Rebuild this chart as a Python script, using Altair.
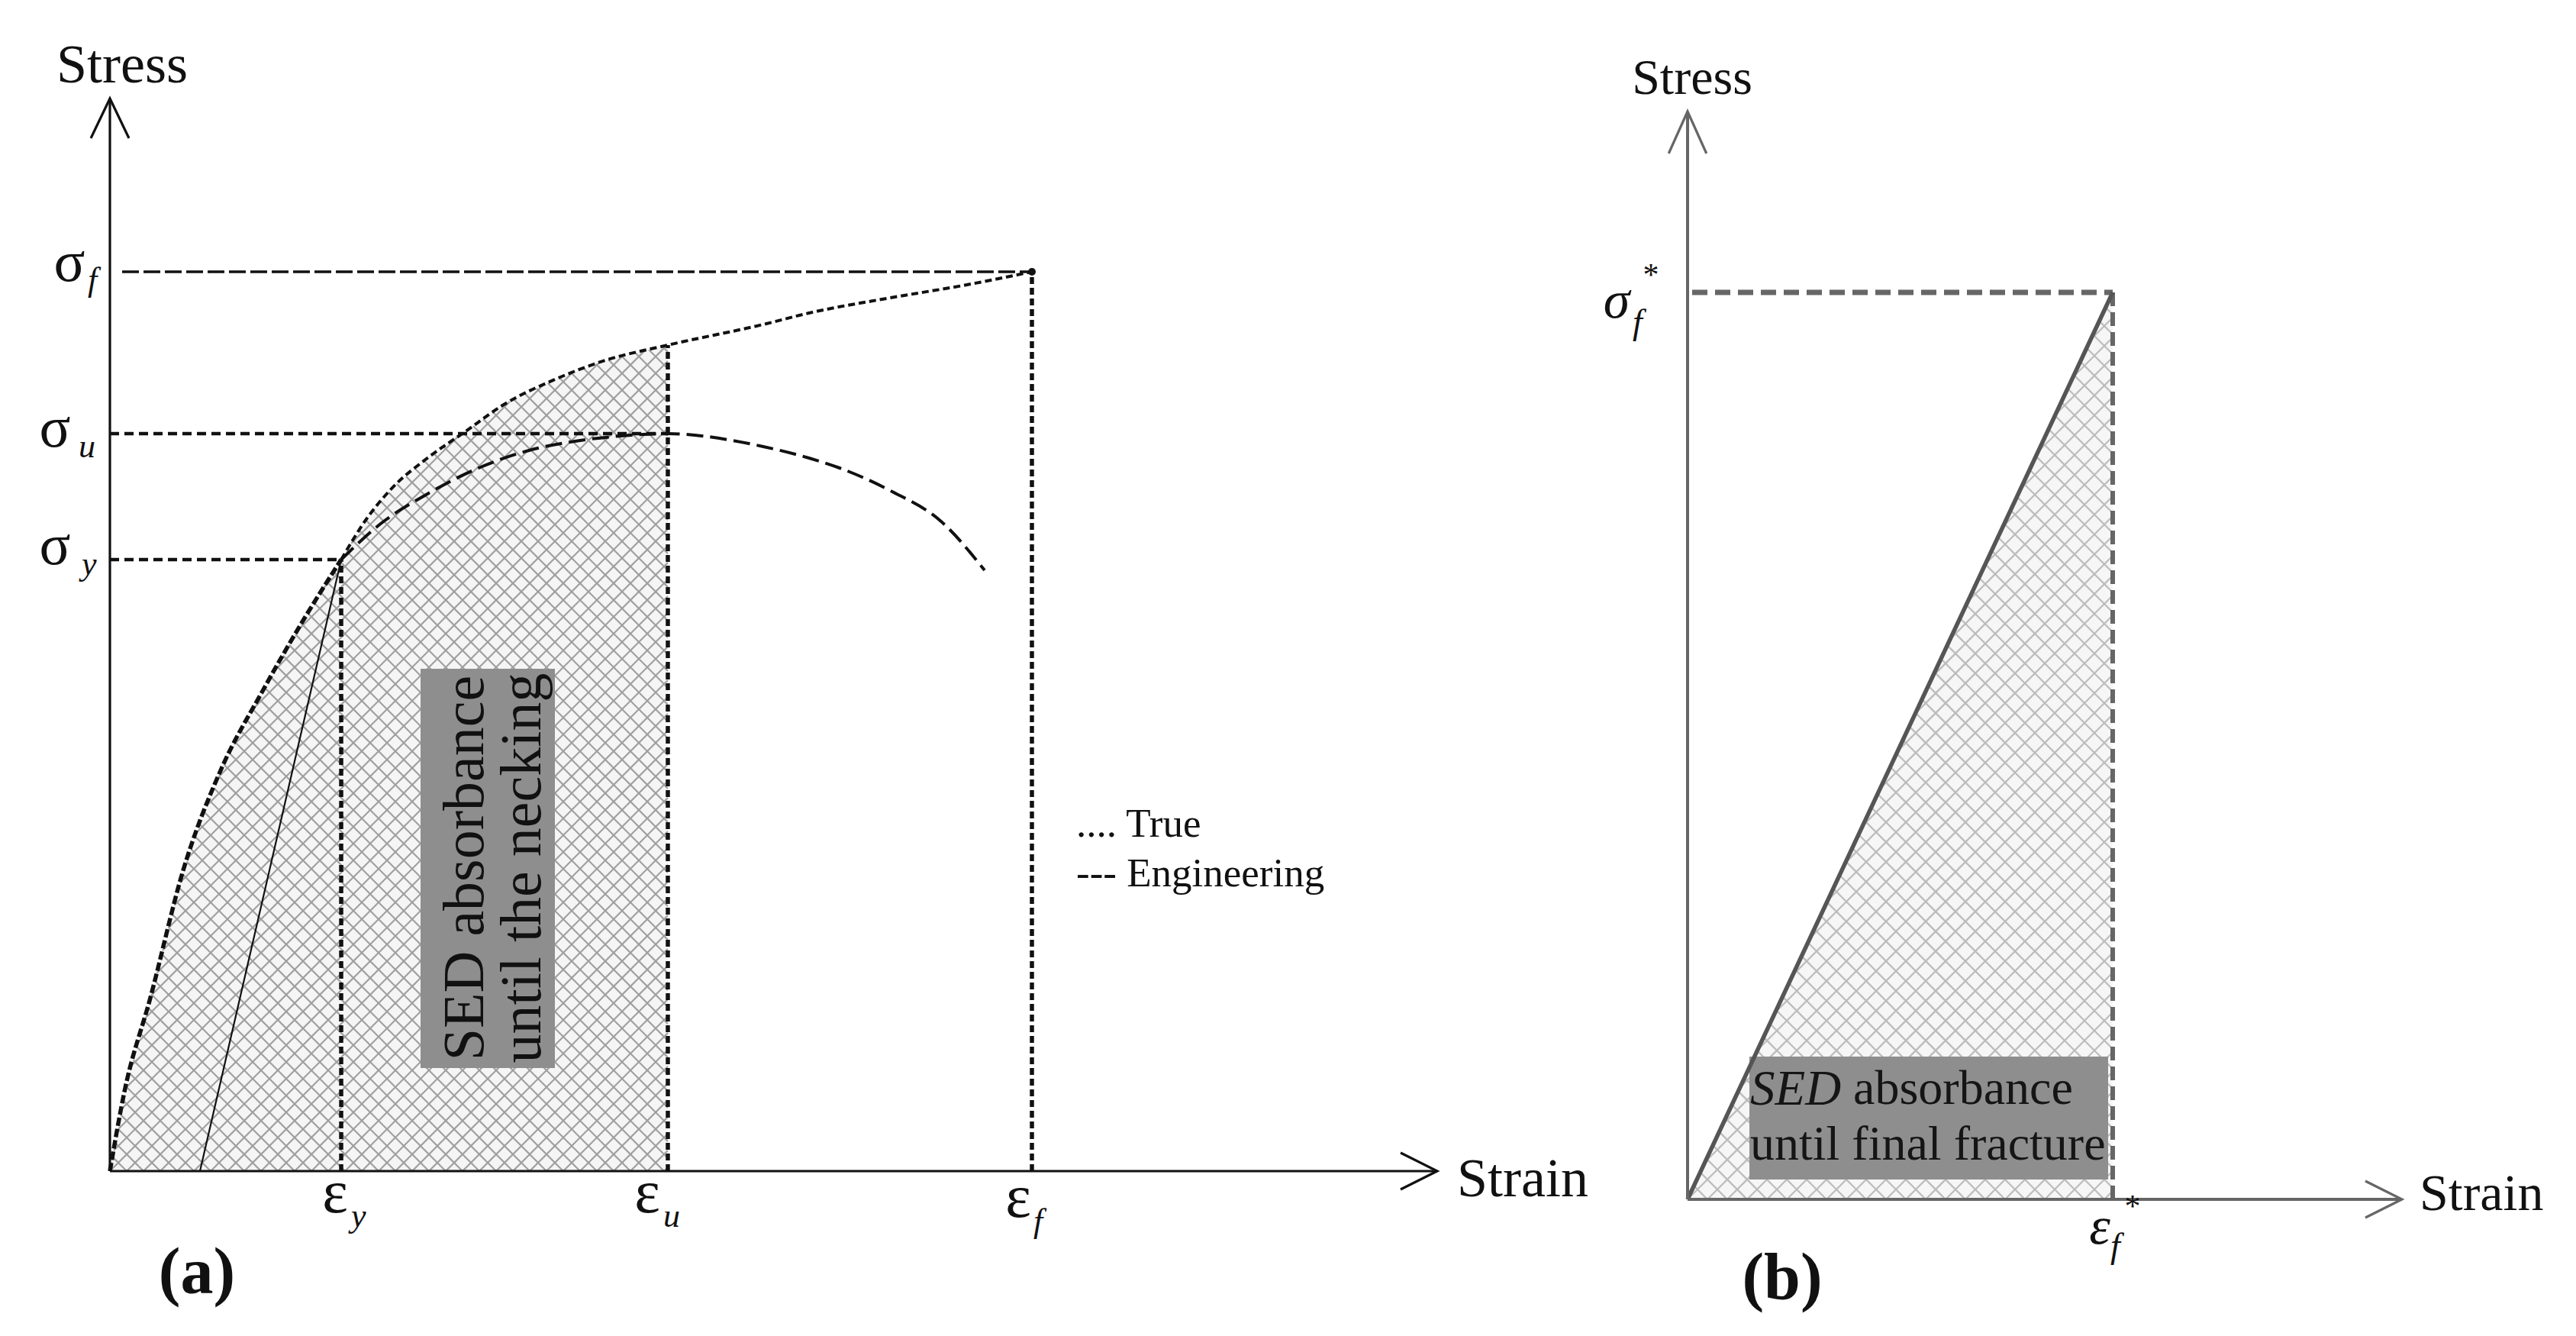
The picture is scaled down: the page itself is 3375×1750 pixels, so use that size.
import altair as alt
import numpy as np
import pandas as pd

# ---------------- Panel (a): schematic values (1 unit = 10 px) ----------------
eps_y, eps_u, eps_f = 30.3, 73.1, 120.8
sig_y, sig_u, sig_f = 80.1, 96.6, 117.8
unload_foot = 11.8
elastic_strain = [0, 1.9, 5.3, 9.6, 14.6, 19.9, 25.3, 30.3]
elastic_stress = [0, 10.4, 22.7, 39.4, 52.7, 62.7, 72.1, 80.1]
eng_strain = [30.3, 35.6, 41.6, 48.3, 54.9, 61.6, 68.3, 73.1, 81.6, 85.6, 91.6, 95.6, 102.3, 108.9, 114.6]
eng_stress = [80.1, 84.9, 88.7, 92.1, 94.4, 95.7, 96.4, 96.6, 95.7, 94.9, 93.4, 92.1, 89.1, 85.1, 78.7]
true_strain = [30.3, 33.6, 36.9, 41.6, 46.6, 51.6, 58.3, 64.9, 73.1, 85.6, 91.6, 102.3, 112.3, 120.8]
true_stress = [80.1, 85.4, 89.4, 93.4, 96.9, 100.4, 103.7, 106.2, 108.2, 110.9, 112.4, 114.4, 116.1, 117.8]
axis_a_end = [173.9, 140.5]
legend_a = [".... True", "--- Engineering"]
box_a_text = ["SED absorbance", "until the necking"]

# ---------------- Panel (b) ----------------
eps_f_star, sig_f_star = 55.7, 118.8
axis_b_end = [93.6, 142.5]
box_b_text = ["SED", "absorbance", "until final fracture"]

FONT = "Liberation Serif"
W_A, W_B, H = 2080, 1279, 1734
xs_a = alt.Scale(domain=[-13.6, 194.4], nice=False, zero=False)
ys_a = alt.Scale(domain=[-20.8, 152.6], nice=False, zero=False)
xs_b = alt.Scale(domain=[-12.3, 115.6], nice=False, zero=False)
ys_b = alt.Scale(domain=[-17.1, 156.3], nice=False, zero=False)


def enc(xs, ys, x="x", y="y", x2=None, y2=None, **kw):
    e = dict(x=alt.X(x, type="quantitative", scale=xs, axis=None),
             y=alt.Y(y, type="quantitative", scale=ys, axis=None))
    if x2:
        e["x2"] = alt.X2(x2)
    if y2:
        e["y2"] = alt.Y2(y2)
    e.update(kw)
    return e


def hatch(xb, yb, xmax, period):
    xs = np.linspace(0, xmax, int(xmax / 0.02) + 1)
    up = np.interp(xs, xb, yb)
    top = max(yb)
    rows = []
    for s in (1, -1):
        lo, hi = (-xmax, top) if s == 1 else (0, top + xmax)
        for c in np.arange(np.floor(lo / period) * period, hi + period, period):
            y = s * xs + c
            ins = (y >= 0) & (y <= up)
            if not ins.any():
                continue
            idx = np.flatnonzero(ins)
            br = np.flatnonzero(np.diff(idx) > 1)
            starts = np.r_[idx[0], idx[br + 1]]
            ends = np.r_[idx[br], idx[-1]]
            for a, b in zip(starts, ends):
                if b > a:
                    rows.append(dict(x=xs[a], y=y[a], x2=xs[b], y2=y[b]))
    return pd.DataFrame(rows)


def text_layer(df, xs, ys, size, **kw):
    return alt.Chart(df).mark_text(font=FONT, fontSize=size, **kw).encode(
        **enc(xs, ys, text=alt.Text("t:N")))


def seg(df, xs, ys, **kw):
    return alt.Chart(df).mark_rule(**kw).encode(**enc(xs, ys, x2="x2", y2="y2"))


# ================= Panel (a) =================
iu = true_strain.index(eps_u)
bx = elastic_strain + true_strain[1:iu + 1]
by = elastic_stress + true_stress[1:iu + 1]
region_a = pd.DataFrame({"x": bx, "y": by, "y0": [0] * len(bx)})
hatch_a = hatch(bx, by, eps_u, 2.2)

fill_a = alt.Chart(region_a).mark_area(color="#f5f5f5", interpolate="linear").encode(
    **enc(xs_a, ys_a, y2="y0"))
hatch_a_l = seg(hatch_a, xs_a, ys_a, color="#a0a0a0", strokeWidth=2.2)

box_a = alt.Chart(pd.DataFrame({"x": [40.7], "x2": [58.3], "y": [13.5], "y2": [65.8]})).mark_rect(
    color="#8e8e8e").encode(**enc(xs_a, ys_a, x2="x2", y2="y2"))
box_a_t = text_layer(pd.DataFrame({"x": [46.6, 54.1], "y": [39.7, 39.7], "t": box_a_text}),
                     xs_a, ys_a, 76, angle=270, align="center", baseline="middle", color="#111")

# reference dashed lines
h_long = seg(pd.DataFrame({"x": [1.6], "x2": [eps_f], "y": [sig_f], "y2": [sig_f]}), xs_a, ys_a,
             color="#111", strokeWidth=3.5, strokeDash=[22, 6])
h_short = seg(pd.DataFrame({"x": [0, 0], "x2": [eps_u, eps_y], "y": [sig_u, sig_y], "y2": [sig_u, sig_y]}),
              xs_a, ys_a, color="#111", strokeWidth=4.5, strokeDash=[12, 7])
verts = seg(pd.DataFrame({"x": [eps_y, eps_u, eps_f], "x2": [eps_y, eps_u, eps_f],
                          "y": [0, 0, 0], "y2": [sig_y, true_stress[iu], sig_f]}), xs_a, ys_a,
            color="#111", strokeWidth=5.5, strokeDash=[9, 5])

elastic = alt.Chart(pd.DataFrame({"x": elastic_strain, "y": elastic_stress})).mark_line(
    color="#111", strokeWidth=5.5, strokeDash=[11, 4], interpolate="monotone").encode(**enc(xs_a, ys_a))
eng = alt.Chart(pd.DataFrame({"x": eng_strain, "y": eng_stress})).mark_line(
    color="#111", strokeWidth=4, strokeDash=[22, 9], interpolate="monotone").encode(**enc(xs_a, ys_a))
true_c = alt.Chart(pd.DataFrame({"x": true_strain, "y": true_stress})).mark_line(
    color="#111", strokeWidth=4, strokeDash=[9, 5], interpolate="monotone").encode(**enc(xs_a, ys_a))
unload = seg(pd.DataFrame({"x": [unload_foot], "x2": [eps_y], "y": [0], "y2": [sig_y]}), xs_a, ys_a,
             color="#111", strokeWidth=2.2)
frac_pt = alt.Chart(pd.DataFrame({"x": [eps_f], "y": [sig_f]})).mark_point(
    filled=True, color="#111", size=100, opacity=1).encode(**enc(xs_a, ys_a))

axes_a = seg(pd.DataFrame({"x": [0, 0], "x2": [axis_a_end[0], 0], "y": [0, 0], "y2": [0, axis_a_end[1]]}),
             xs_a, ys_a, color="#111", strokeWidth=3.2)
arr_up_a = alt.Chart(pd.DataFrame({"x": [0], "y": [axis_a_end[1]]})).mark_point(
    shape="M-0.48,1L0,0L0.48,1", size=10816, filled=False, color="#111", strokeWidth=3.2,
    opacity=1).encode(**enc(xs_a, ys_a))
arr_rt_a = alt.Chart(pd.DataFrame({"x": [axis_a_end[0]], "y": [0]})).mark_point(
    shape="M-1,-0.5L0,0L-1,0.5", size=9216, filled=False, color="#111", strokeWidth=3.2,
    opacity=1).encode(**enc(xs_a, ys_a))

stress_a = text_layer(pd.DataFrame({"x": [1.6], "y": [144.8], "t": ["Stress"]}),
                      xs_a, ys_a, 72, align="center", baseline="middle", color="#111")
strain_a = text_layer(pd.DataFrame({"x": [176.5], "y": [-1.1], "t": ["Strain"]}),
                      xs_a, ys_a, 72, align="left", baseline="middle", color="#111")
sig_lab = text_layer(pd.DataFrame({"x": [-5.3, -7.2, -7.2], "y": [118.9, 97.2, 81.8],
                                   "t": ["σ", "σ", "σ"]}),
                     xs_a, ys_a, 76, align="center", baseline="middle", color="#111")
sig_sub = text_layer(pd.DataFrame({"x": [-2.9, -4.1, -3.7], "y": [116.6, 94.8, 79.4],
                                   "t": ["f", "u", "y"]}),
                     xs_a, ys_a, 44, align="left", baseline="middle", fontStyle="italic", color="#111")
eps_lab = text_layer(pd.DataFrame({"x": [29.5, 70.4, 119.0], "y": [-3.0, -3.0, -3.6],
                                   "t": ["ε", "ε", "ε"]}),
                     xs_a, ys_a, 80, align="center", baseline="middle", color="#111")
eps_sub = text_layer(pd.DataFrame({"x": [31.6, 72.5, 121.0], "y": [-6.0, -6.0, -6.7],
                                   "t": ["y", "u", "f"]}),
                     xs_a, ys_a, 44, align="left", baseline="middle", fontStyle="italic", color="#111")
legend_t = text_layer(pd.DataFrame({"x": [126.6, 126.6], "y": [45.4, 38.9], "t": legend_a}),
                      xs_a, ys_a, 53, align="left", baseline="middle", color="#111")
tag_a = text_layer(pd.DataFrame({"x": [11.4], "y": [-13.4], "t": ["(a)"]}),
                   xs_a, ys_a, 86, align="center", baseline="middle", fontWeight="bold", color="#111")

panel_a = alt.layer(fill_a, hatch_a_l, box_a, box_a_t, h_long, h_short, verts, elastic, eng, true_c,
                    unload, frac_pt, axes_a, arr_up_a, arr_rt_a, stress_a, strain_a, sig_lab, sig_sub,
                    eps_lab, eps_sub, legend_t, tag_a).properties(width=W_A, height=H)

# ================= Panel (b) =================
tri_x = [0, eps_f_star]
tri_y = [0, sig_f_star]
region_b = pd.DataFrame({"x": tri_x, "y": tri_y, "y0": [0, 0]})
hatch_b = hatch(tri_x, tri_y, eps_f_star, 2.6)
GB = "#555555"

fill_b = alt.Chart(region_b).mark_area(color="#f6f6f6", interpolate="linear").encode(
    **enc(xs_b, ys_b, y2="y0"))
hatch_b_l = seg(hatch_b, xs_b, ys_b, color="#bdbdbd", strokeWidth=2.3)
box_b = alt.Chart(pd.DataFrame({"x": [8.1], "x2": [55.1], "y": [2.6], "y2": [18.7]})).mark_rect(
    color="#8e8e8e").encode(**enc(xs_b, ys_b, x2="x2", y2="y2"))
box_b_it = text_layer(pd.DataFrame({"x": [8.2], "y": [14.4], "t": [box_b_text[0]]}),
                      xs_b, ys_b, 65, align="left", baseline="middle", fontStyle="italic", color="#151515")
box_b_t = text_layer(pd.DataFrame({"x": [21.7, 8.2], "y": [14.4, 7.1], "t": box_b_text[1:]}),
                     xs_b, ys_b, 64, align="left", baseline="middle", color="#151515")
h_b = seg(pd.DataFrame({"x": [0.6], "x2": [eps_f_star], "y": [sig_f_star], "y2": [sig_f_star]}), xs_b, ys_b,
          color="#666", strokeWidth=7, strokeDash=[20, 10])
v_b = seg(pd.DataFrame({"x": [eps_f_star], "x2": [eps_f_star], "y": [0], "y2": [sig_f_star]}), xs_b, ys_b,
          color="#666", strokeWidth=6, strokeDash=[18, 8])
diag_b = alt.Chart(pd.DataFrame({"x": tri_x, "y": tri_y})).mark_line(
    color=GB, strokeWidth=5.5).encode(**enc(xs_b, ys_b))
axes_b = seg(pd.DataFrame({"x": [0, 0], "x2": [axis_b_end[0], 0], "y": [0, 0], "y2": [0, axis_b_end[1]]}),
             xs_b, ys_b, color="#666", strokeWidth=4)
arr_up_b = alt.Chart(pd.DataFrame({"x": [0], "y": [axis_b_end[1]]})).mark_point(
    shape="M-0.45,1L0,0L0.45,1", size=12100, filled=False, color="#666", strokeWidth=3.2,
    opacity=1).encode(**enc(xs_b, ys_b))
arr_rt_b = alt.Chart(pd.DataFrame({"x": [axis_b_end[0]], "y": [0]})).mark_point(
    shape="M-1,-0.5L0,0L-1,0.5", size=9216, filled=False, color="#666", strokeWidth=3.2,
    opacity=1).encode(**enc(xs_b, ys_b))
stress_b = text_layer(pd.DataFrame({"x": [0.6], "y": [146.8], "t": ["Stress"]}),
                      xs_b, ys_b, 66, align="center", baseline="middle", color="#111")
strain_b = text_layer(pd.DataFrame({"x": [95.9], "y": [0.6], "t": ["Strain"]}),
                      xs_b, ys_b, 68, align="left", baseline="middle", color="#111")
greek_b = text_layer(pd.DataFrame({"x": [-9.3, 54.0], "y": [117.6, -3.7], "t": ["σ", "ε"]}),
                     xs_b, ys_b, 70, align="center", baseline="middle", fontStyle="italic", color="#111")
sub_b = text_layer(pd.DataFrame({"x": [-7.2, 55.4], "y": [114.8, -6.2], "t": ["f", "f"]}),
                   xs_b, ys_b, 46, align="left", baseline="middle", fontStyle="italic", color="#111")
star_b = text_layer(pd.DataFrame({"x": [-4.8, 58.3], "y": [121.0, -1.0], "t": ["*", "*"]}),
                    xs_b, ys_b, 42, align="center", baseline="middle", color="#111")
tag_b = text_layer(pd.DataFrame({"x": [12.4], "y": [-10.4], "t": ["(b)"]}),
                   xs_b, ys_b, 86, align="center", baseline="middle", fontWeight="bold", color="#111")

panel_b = alt.layer(fill_b, hatch_b_l, h_b, v_b, box_b, box_b_it, box_b_t, diag_b, axes_b, arr_up_b,
                    arr_rt_b, stress_b, strain_b, greek_b, sub_b, star_b, tag_b).properties(width=W_B, height=H)

chart = alt.hconcat(panel_a, panel_b, spacing=0, bounds="flush",
                    padding={"left": 0, "top": 0, "right": 0, "bottom": 0}).configure_view(
    stroke=None).properties(background="white")

chart.save("out.html", embed_options={"renderer": "svg", "actions": False})
